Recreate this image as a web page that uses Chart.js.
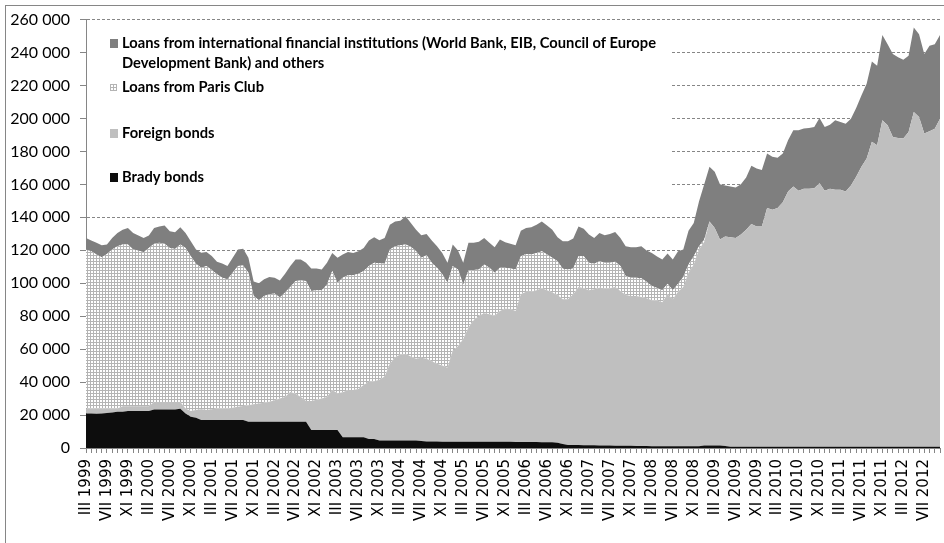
<!DOCTYPE html>
<html>
<head>
<meta charset="utf-8">
<script src="https://cdn.jsdelivr.net/npm/chart.js@4/dist/chart.umd.min.js"></script>
<style>
  html, body { margin: 0; padding: 0; background: #fff; }
  canvas { display: block; }
</style>
</head>
<body>
<canvas id="chart" width="944" height="543"></canvas>
<script>
// monthly observations, March 1999 onwards
const startYear = 1999;
const startMonth = 3;
const monthCount = 164;
const romanMonths = ['I', 'II', 'III', 'IV', 'V', 'VI', 'VII', 'VIII', 'IX', 'X', 'XI', 'XII'];

const categories = [];
for (let k = 0; k < monthCount; k++) {
  const m = (startMonth - 1 + k) % 12;
  const y = startYear + Math.floor((startMonth - 1 + k) / 12);
  categories.push(romanMonths[m] + ' ' + y);
}

const bradyBonds = [
  21000, 21000, 20800, 21000, 21200, 21500, 22000, 22000, 22500, 22500,
  22500, 22500, 22500, 23300, 23300, 23300, 23300, 23300, 23800, 21000,
  19000, 18300, 17000, 17000, 17000, 17000, 17000, 17000, 17000, 17000,
  17000, 16000, 16000, 16000, 16000, 16000, 16000, 16000, 16000, 16000,
  16000, 16000, 16000, 11000, 11000, 11000, 11000, 11000, 11000, 6500,
  6500, 6500, 6500, 6500, 5500, 5500, 4500, 4500, 4500, 4500,
  4500, 4500, 4500, 4500, 4200, 4000, 4000, 4000, 3800, 3800,
  3800, 3800, 3800, 3800, 3800, 3800, 3800, 3800, 3800, 3800,
  3800, 3800, 3600, 3600, 3600, 3600, 3600, 3500, 3500, 3500,
  3200, 2500, 1800, 1800, 1800, 1600, 1600, 1600, 1500, 1500,
  1500, 1400, 1400, 1300, 1300, 1200, 1200, 1200, 1100, 1000,
  1000, 1000, 1000, 1000, 1000, 1000, 1000, 1000, 1500, 1500,
  1500, 1500, 1200, 800, 800, 800, 800, 800, 800, 800,
  800, 800, 800, 800, 800, 800, 800, 800, 800, 800,
  800, 800, 800, 800, 800, 800, 800, 800, 800, 800,
  800, 800, 800, 800, 800, 800, 800, 800, 800, 800,
  800, 800, 800, 800
];

const foreignBonds = [
  2900, 2900, 3100, 2900, 2700, 2400, 1900, 3300, 2800, 2800,
  2800, 2800, 2800, 4600, 4600, 4600, 4600, 4600, 4100, 2900,
  3500, 4700, 6500, 6000, 6500, 7000, 7000, 7000, 7500, 8000,
  8500, 10000, 10500, 11000, 11500, 12000, 13000, 14000, 15000, 18000,
  17000, 15000, 12500, 17500, 18300, 19000, 20000, 24200, 22200, 27300,
  28700, 28700, 29300, 31700, 34700, 35000, 36900, 38900, 46600, 50600,
  52200, 52600, 51000, 49600, 50500, 50100, 48700, 47100, 46300, 44900,
  55300, 57900, 62400, 69400, 73800, 76400, 78000, 77400, 76400, 79400,
  80700, 80500, 79600, 89700, 91300, 91300, 92100, 93400, 92200, 90800,
  89700, 87800, 88500, 91500, 95900, 95300, 94100, 94700, 95800, 95400,
  95400, 96300, 93900, 91600, 91000, 91100, 90500, 89700, 88600, 88500,
  87500, 92300, 89300, 93900, 96700, 105400, 110400, 119500, 123600, 135600,
  132000, 125000, 127100, 127100, 126700, 128700, 131700, 135100, 133700, 133700,
  144800, 143800, 144800, 148400, 154800, 157900, 155300, 156500, 156500, 156900,
  159900, 155300, 156500, 155900, 155900, 154800, 158500, 163900, 169900, 174900,
  185000, 183000, 198100, 195100, 188000, 187400, 187000, 191000, 203100, 200100,
  190000, 191500, 193000, 199100
];

const parisClub = [
  96600, 95500, 93500, 91900, 93900, 96600, 98600, 98200, 98200, 95200,
  94600, 93500, 96100, 96000, 96600, 96100, 93500, 92900, 95600, 97500,
  93900, 88800, 85900, 87400, 84500, 81400, 79400, 78400, 81900, 85400,
  85300, 80400, 65800, 62700, 64800, 65300, 64700, 61300, 63300, 63700,
  68300, 70700, 72800, 66800, 66400, 65700, 68300, 72200, 67100, 69600,
  69600, 69600, 70000, 69200, 70200, 71900, 70800, 68400, 69400, 67400,
  66400, 66400, 66600, 65300, 60700, 62900, 59700, 58300, 55300, 51600,
  51300, 46700, 33100, 34600, 30400, 28200, 29600, 28200, 26200, 26200,
  24900, 24700, 25200, 23100, 22900, 22500, 22700, 22500, 21700, 21100,
  20500, 18500, 18100, 15700, 18700, 19500, 16700, 15500, 16100, 15500,
  15500, 15300, 15100, 11500, 11100, 11100, 11300, 10000, 8600, 7600,
  7200, 6400, 5400, 4800, 6100, 5000, 5000, 2000, 1400, 400,
  0, 0, 0, 0, 0, 0, 0, 0, 0, 0,
  0, 0, 0, 0, 0, 0, 0, 0, 0, 0,
  0, 0, 0, 0, 0, 0, 0, 0, 0, 0,
  0, 0, 0, 0, 0, 0, 0, 0, 0, 0,
  0, 0, 0, 0
];

const ifiLoans = [
  7000, 6600, 7100, 7200, 5700, 7000, 8000, 9000, 10000, 10000,
  9100, 8700, 7600, 9600, 10000, 11000, 10100, 10200, 10500, 9100,
  9100, 8700, 9100, 8600, 8500, 7600, 8600, 8100, 9100, 10100,
  10200, 9100, 8700, 10300, 10100, 10500, 9700, 10400, 11500, 12700,
  13100, 12700, 11100, 13700, 13300, 12700, 13100, 11000, 15100, 14000,
  14200, 13600, 13600, 14000, 15500, 15500, 13900, 15700, 15000, 15000,
  14800, 17100, 14400, 13100, 13700, 12900, 13500, 13100, 13000, 12100,
  13100, 11400, 13100, 16700, 16500, 16700, 16100, 15100, 15500, 17100,
  15500, 14900, 14700, 15500, 15700, 16500, 17100, 18100, 17700, 17100,
  14500, 16700, 17100, 18100, 18100, 16700, 17100, 15700, 17100, 16700,
  17500, 18100, 17100, 18100, 18500, 18500, 19500, 18900, 20100, 19100,
  18700, 18300, 18700, 19700, 16700, 20500, 20100, 27100, 33500, 33200,
  34200, 33500, 31000, 30800, 30600, 30500, 31600, 35400, 35200, 34200,
  33200, 32200, 30600, 29600, 31200, 34200, 36800, 36600, 36900, 37100,
  39600, 38700, 38900, 42200, 41200, 41200, 40600, 41600, 43200, 45300,
  48700, 48200, 51700, 49200, 50300, 48900, 47900, 46300, 51300, 50200,
  48300, 51800, 51300, 50700
];

const legendLabels = [
  ['Loans from international financial institutions (World Bank, EIB, Council of Europe', 'Development Bank) and others'],
  ['Loans from Paris Club'],
  ['Foreign bonds'],
  ['Brady bonds']
];

const AXIS_GREY = '#868686';

// small grid hatch used for the Paris Club area
function makeHatch() {
  const c = document.createElement('canvas');
  c.width = 3; c.height = 3;
  const p = c.getContext('2d');
  p.fillStyle = '#fff';
  p.fillRect(0, 0, 3, 3);
  p.fillStyle = '#b4b4b4';
  p.fillRect(0, 0, 3, 1);
  p.fillRect(0, 0, 1, 3);
  return c;
}
const hatchCanvas = makeHatch();
const ctx = document.getElementById('chart').getContext('2d');
const hatch = ctx.createPattern(hatchCanvas, 'repeat');

const colors = ['#0d0d0d', '#bfbfbf', hatch, '#7f7f7f'];

const frame = {
  id: 'frame',
  beforeDraw(chart) {
    const c = chart.ctx;
    c.save();
    c.fillStyle = '#fff';
    c.fillRect(0, 0, chart.width, chart.height);
    c.strokeStyle = AXIS_GREY;
    c.lineWidth = 1;
    c.strokeRect(5.5, 5.5, chart.width + 10, chart.height + 10);
    c.restore();
  }
};

const boxLegend = {
  id: 'boxLegend',
  afterDraw(chart) {
    const c = chart.ctx;
    c.save();
    c.fillStyle = '#fff';
    c.fillRect(87, 25, 585, 172);
    c.font = 'bold 15px Lato';
    c.textBaseline = 'middle';
    c.fillStyle = '#000';
    const target = 534;
    const sx = Math.min(1, target / c.measureText(legendLabels[0][0]).width);
    // entries listed top to bottom: IFI, Paris Club, Foreign, Brady
    const rows = [43, 87, 133, 177];
    const swatch = ['#7f7f7f', hatch, '#bfbfbf', '#0d0d0d'];
    rows.forEach((y, k) => {
      if (k === 1) {
        c.fillStyle = '#fff';
        c.fillRect(110, y - 3, 7, 7);
        c.strokeStyle = '#b4b4b4';
        c.lineWidth = 1;
        c.beginPath();
        for (let t = 0; t <= 6; t += 3) {
          c.moveTo(110.5 + t, y - 3); c.lineTo(110.5 + t, y + 4);
          c.moveTo(110, y - 2.5 + t); c.lineTo(117, y - 2.5 + t);
        }
        c.stroke();
      } else {
        c.fillStyle = swatch[k];
        c.fillRect(110, y - 4, 8, 9);
      }
      c.fillStyle = '#000';
      legendLabels[k].forEach((line, j) => {
        c.save();
        c.translate(122, y + j * 20);
        c.scale(sx, 1);
        c.fillText(line, 0, 0);
        c.restore();
      });
    });
    c.restore();
  }
};

const seriesList = [bradyBonds, foreignBonds, parisClub, ifiLoans];

new Chart(ctx, {
  type: 'line',
  data: {
    labels: categories,
    datasets: seriesList.map((vals, k) => ({
      label: k,
      data: vals,
      backgroundColor: colors[k],
      borderColor: 'rgba(0,0,0,0)',
      borderWidth: 0,
      pointRadius: 0,
      tension: 0,
      fill: k === 0 ? 'origin' : '-1'
    }))
  },
  options: {
    responsive: false,
    devicePixelRatio: 1,
    animation: false,
    layout: { padding: { left: 0, top: 17, right: 4, bottom: 0 } },
    plugins: {
      legend: { display: false },
      tooltip: { enabled: false }
    },
    scales: {
      x: {
        afterFit: s => { s.height = 95; s.paddingLeft = 0; s.paddingRight = 0; },
        grid: {
          drawOnChartArea: false,
          tickLength: 5,
          tickColor: AXIS_GREY
        },
        border: { color: AXIS_GREY },
        ticks: {
          autoSkip: false,
          minRotation: 90,
          maxRotation: 90,
          padding: 6,
          color: '#000',
          font: { family: 'DejaVu Sans', size: 15 },
          callback: function (value, index) {
            return index % 4 === 0 ? this.getLabelForValue(value) : '';
          }
        }
      },
      y: {
        stacked: true,
        min: 0,
        max: 260000,
        afterFit: s => { s.width = 86; },
        grid: {
          color: AXIS_GREY,
          tickLength: 6,
          tickColor: AXIS_GREY
        },
        border: { color: AXIS_GREY, dash: [3, 2] },
        ticks: {
          stepSize: 20000,
          padding: 10,
          color: '#000',
          font: { family: 'Lato', size: 16 },
          callback: v => v === 0 ? '0' : String(v).replace(/\B(?=(\d{3})+(?!\d))/g, ' ')
        }
      }
    }
  },
  plugins: [frame, boxLegend]
});
</script>
</body>
</html>
